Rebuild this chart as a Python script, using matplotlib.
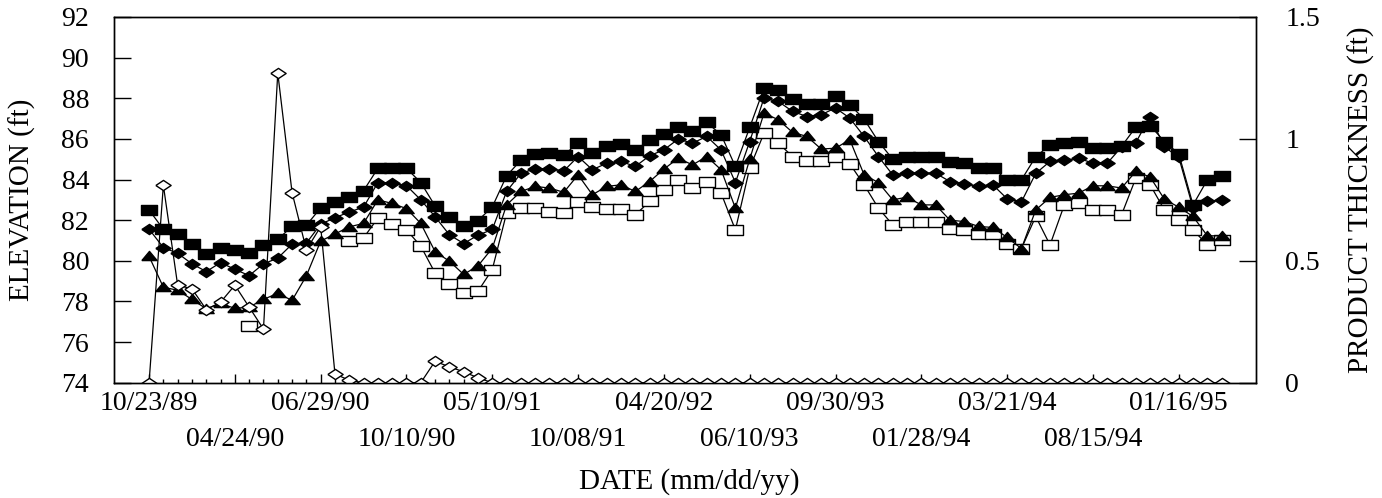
import numpy as np
import matplotlib
matplotlib.use("Agg")
import matplotlib.pyplot as plt
import matplotlib.ticker as ticker

plt.rcParams['font.family'] = ['Liberation Serif', 'DejaVu Serif']

nan = np.nan

# tick labels, one every 6 samples
date_labels = ["10/23/89", "04/24/90", "06/29/90", "10/10/90", "05/10/91",
               "10/08/91", "04/20/92", "06/10/93", "09/30/93", "01/28/94",
               "03/21/94", "08/15/94", "01/16/95"]

# elevation series (ft)
elev_sq = [82.5, 81.55, 81.3, 80.85, 80.35, 80.65, 80.55, 80.4, 80.8, 81.05,
           81.7, 81.75, 82.6, 82.9, 83.15, 83.45, 84.55, 84.55, 84.55, 83.85,
           82.7, 82.15, 81.7, 81.98, 82.65, 84.18, 84.95, 85.27, 85.3, 85.2,
           85.8, 85.3, 85.63, 85.76, 85.46, 85.92, 86.25, 86.58, 86.41, 86.81,
           86.2, 84.64, 86.56, 88.5, 88.42, 87.98, 87.73, 87.73, 88.09, 87.68,
           86.97, 85.87, 85.0, 85.13, 85.13, 85.13, 84.86, 84.8, 84.56, 84.56,
           83.98, 83.98, 85.12, 85.7, 85.79, 85.87, 85.54, 85.54, 85.63, 86.58,
           86.65, 85.87, 85.27, 82.75, 83.98, 84.18]

elev_dm = [81.56, 80.65, 80.37, 79.85, 79.47, 79.91, 79.58, 79.27, 79.85, 80.13,
           80.82, 80.87, 81.8, 82.12, 82.4, 82.64, 83.85, 83.82, 83.7, 83.0,
           82.17, 81.28, 80.85, 81.26, 81.54, 83.41, 84.3, 84.53, 84.53, 84.42,
           85.13, 84.48, 84.8, 84.89, 84.64, 85.17, 85.46, 85.99, 85.79, 86.12,
           85.45, 83.85, 85.87, 88.01, 87.84, 87.35, 87.1, 87.19, 87.52, 87.02,
           86.12, 85.13, 84.23, 84.31, 84.31, 84.31, 83.9, 83.79, 83.66, 83.74,
           83.05, 82.9, 84.3, 84.89, 84.94, 85.05, 84.8, 84.8, 85.6, 85.82,
           87.1, 85.6, 85.1, 82.6, 82.92, 83.0]

elev_tr = [80.22, 78.7, 78.55, 78.1, 77.64, 77.9, 77.66, 77.72, 78.1, 78.4,
           78.05, 79.26, 80.97, 81.32, 81.67, 81.84, 83.0, 82.82, 82.57, 81.84,
           80.45, 79.98, 79.33, 79.75, 80.62, 82.75, 83.41, 83.66, 83.58, 83.37,
           84.23, 83.25, 83.66, 83.74, 83.41, 83.9, 84.51, 85.05, 84.72, 85.13,
           84.48, 82.59, 85.0, 87.27, 86.94, 86.32, 86.12, 85.5, 85.54, 85.96,
           84.23, 83.85, 83.0, 83.13, 82.75, 82.75, 82.0, 81.93, 81.69, 81.64,
           81.15, 80.6, 82.5, 83.12, 83.25, 83.33, 83.69, 83.69, 83.58, 84.4,
           84.12, 83.03, 82.64, 82.18, 81.23, 81.23]

elev_osq = [nan, nan, nan, nan, nan, nan, nan, 76.8, nan, nan,
            nan, nan, nan, nan, 80.95, 81.13, 82.1, 81.8, 81.52, 80.72,
            79.4, 78.88, 78.4, 78.5, 79.57, 82.35, 82.6, 82.6, 82.4, 82.37,
            82.9, 82.67, 82.54, 82.54, 82.26, 82.92, 83.46, 83.98, 83.58, 83.9,
            83.33, 81.52, 84.56, 86.28, 85.79, 85.13, 84.89, 84.89, 85.1, 84.77,
            83.74, 82.59, 81.77, 81.93, 81.93, 81.93, 81.56, 81.52, 81.31, 81.31,
            80.85, 80.6, 82.18, 80.78, 82.75, 82.84, 82.5, 82.5, 82.26, 84.07,
            83.74, 82.5, 82.0, 81.52, 80.78, 81.0]

# product thickness (ft), right axis
thickness = [0, 0.81, 0.40, 0.385, 0.30, 0.33, 0.40, 0.31, 0.22, 1.27,
             0.78, 0.545, 0.64, 0.036, 0.01, 0, 0, 0, 0, 0,
             0.088, 0.065, 0.045, 0.02] + [0] * 52

x = np.arange(len(elev_sq))

# wide marker shapes like the original
rect = [(-1.5, -1), (1.5, -1), (1.5, 1), (-1.5, 1), (-1.5, -1)]
diam = [(-1.5, 0), (0, 1), (1.5, 0), (0, -1), (-1.5, 0)]
tri = [(-1.5, -0.8), (1.5, -0.8), (0, 1), (-1.5, -0.8)]

fig, ax = plt.subplots(figsize=(13.82, 4.98), dpi=100)
fig.subplots_adjust(left=0.0825, right=0.9088, top=0.966, bottom=0.2315)

lw = 0.9
ax.plot(x, elev_osq, color='black', lw=lw, marker=rect, ms=11, mfc='white', mec='black', mew=1, zorder=2)
ax.plot(x, elev_tr, color='black', lw=lw, marker=tri, ms=11, mfc='black', mec='black', zorder=3)
ax.plot(x, elev_dm, color='black', lw=lw, marker=diam, ms=11, mfc='black', mec='black', zorder=4)
ax.plot(x, elev_sq, color='black', lw=lw, marker=rect, ms=11, mfc='black', mec='black', zorder=5)

ax.set_xlim(-2.45, 77.4)
ax.set_ylim(74, 92)
ax.set_yticks(np.arange(74, 93, 2))
ax.tick_params(axis='y', direction='in', length=12, width=1, labelsize=20, pad=18)

major = np.arange(0, len(x), 6)
ax.set_xticks(major)
ax.set_xticklabels(date_labels)
ax.xaxis.set_minor_locator(ticker.FixedLocator(x))
ax.tick_params(axis='x', which='major', direction='in', length=6.5, width=1, labelsize=20, pad=6)
ax.tick_params(axis='x', which='minor', direction='in', length=3, width=1)
# staggered labels: every other one on a second row
for k, t in enumerate(ax.xaxis.get_major_ticks()):
    if k % 2 == 1:
        t.set_pad(32)

ax.set_xlabel("DATE (mm/dd/yy)", fontsize=21)
ax.xaxis.set_label_coords(0.504, -0.232)
ax.set_ylabel("ELEVATION (ft)", fontsize=21)
ax.yaxis.set_label_coords(-0.068, 0.5)

ax2 = ax.twinx()
ax2.plot(x, thickness, color='black', lw=lw, marker=diam, ms=11, mfc='white', mec='black', mew=1)
ax2.set_ylim(0, 1.5)
ax2.set_yticks([0, 0.5, 1, 1.5])
ax2.set_yticklabels(["0", "0.5", "1", "1.5"])
ax2.tick_params(axis='y', direction='in', length=12, width=1, labelsize=20, pad=21)
ax2.set_ylabel("PRODUCT THICKNESS (ft)", fontsize=21)
ax2.yaxis.set_label_coords(1.0806, 0.5)

for a in (ax, ax2):
    for s in a.spines.values():
        s.set_linewidth(1)

plt.savefig("out.png", dpi=100)
